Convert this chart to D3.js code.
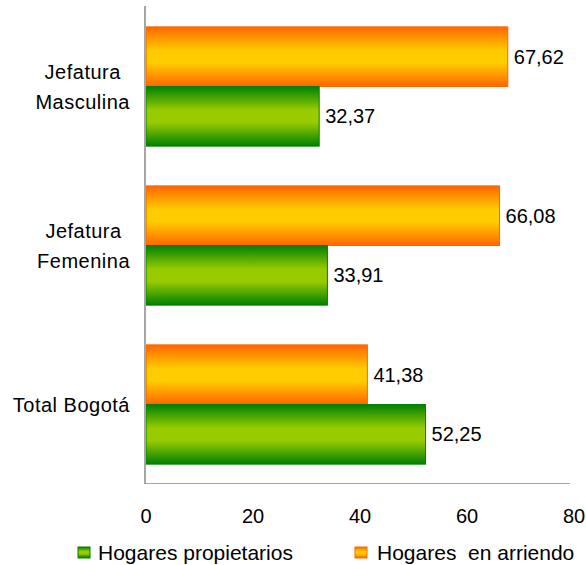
<!DOCTYPE html>
<html lang="es">
<head>
<meta charset="UTF-8">
<title>Hogares por jefatura</title>
<script src="https://cdn.jsdelivr.net/npm/d3@7/dist/d3.min.js"></script>
<style>
  body { margin: 0; background: #fff; }
  svg text { font-family: "Liberation Sans", Arial, sans-serif; fill: #000; }
</style>
</head>
<body>
<div id="chart"></div>
<script>
// datos
const categorias = ["Jefatura Masculina", "Jefatura Femenina", "Total Bogotá"];
const etiquetas = [["Jefatura", "Masculina"], ["Jefatura", "Femenina"], ["Total Bogotá"]];
const series = ["Hogares en arriendo", "Hogares propietarios"];
const arriendo = [67.62, 66.08, 41.38];
const propietarios = [32.37, 33.91, 52.25];
const ticks = [0, 20, 40, 60, 80];

const W = 586, H = 565;
const svg = d3.select("#chart").append("svg").attr("width", W).attr("height", H);

// gradientes
const defs = svg.append("defs");
function grad(id, edge, mid) {
  const g = defs.append("linearGradient").attr("id", id)
    .attr("x1", 0).attr("y1", 0).attr("x2", 0).attr("y2", 1);
  g.append("stop").attr("offset", "0%").attr("stop-color", edge);
  g.append("stop").attr("offset", "40%").attr("stop-color", mid);
  g.append("stop").attr("offset", "60%").attr("stop-color", mid);
  g.append("stop").attr("offset", "100%").attr("stop-color", edge);
}
grad("gOr", "#ff6600", "#ffcc00");
grad("gGr", "#008000", "#99cc00");

const x = d3.scaleLinear().domain([0, 80]).range([146, 574]);
const y = d3.scaleBand().domain(categorias).range([7, 484]).paddingInner(0.25).paddingOuter(0.125);
const sub = d3.scaleBand().domain(series).range([0, y.bandwidth()]);

const colores = {
  "Hogares en arriendo": { fill: "url(#gOr)", stroke: "#ff6600" },
  "Hogares propietarios": { fill: "url(#gGr)", stroke: "#008000" }
};

const filas = categorias.map((c, i) => ({ c, vals: [
  { s: series[0], v: arriendo[i] },
  { s: series[1], v: propietarios[i] }
]}));

const grp = svg.selectAll(".grp").data(filas).join("g")
  .attr("transform", d => `translate(0,${y(d.c)})`);

grp.selectAll("rect").data(d => d.vals).join("rect")
  .attr("x", x(0))
  .attr("y", d => sub(d.s))
  .attr("width", d => x(d.v) - x(0))
  .attr("height", sub.bandwidth())
  .attr("fill", d => colores[d.s].fill)
  .attr("stroke", d => colores[d.s].stroke)
  .attr("stroke-width", 1);

grp.selectAll("text.val").data(d => d.vals).join("text")
  .attr("class", "val")
  .attr("x", d => x(d.v) + 6)
  .attr("y", d => sub(d.s) + sub.bandwidth() / 2)
  .attr("dy", "0.35em")
  .style("font-size", "20px")
  .text(d => d3.format(".2f")(d.v).replace(".", ","));

// etiquetas de categoria: bloque alineado a la derecha, lineas centradas
grp.each(function(d, i) {
  const lines = etiquetas[i];
  const g = d3.select(this);
  const cy = y.bandwidth() / 2;
  const lh = 30;
  const ts = lines.map((l, k) => g.append("text")
    .attr("text-anchor", "middle")
    .attr("y", cy + (k - (lines.length - 1) / 2) * lh)
    .attr("dy", "0.35em")
    .style("font-size", "20px")
    .style("letter-spacing", "0.5px")
    .text(l));
  const wmax = d3.max(ts, t => t.node().getComputedTextLength());
  ts.forEach(t => t.attr("x", 130 - wmax / 2));
});

// ejes
svg.append("line").attr("x1", 145).attr("x2", 145).attr("y1", 6).attr("y2", 484)
  .attr("stroke", "#a6a6a6").attr("stroke-width", 2);
svg.append("line").attr("x1", 145).attr("x2", 570).attr("y1", 483.5).attr("y2", 483.5)
  .attr("stroke", "#a6a6a6").attr("stroke-width", 1);

svg.selectAll(".tick").data(ticks).join("text")
  .attr("class", "tick")
  .attr("x", d => x(d))
  .attr("y", 516)
  .attr("dy", "0.35em")
  .attr("text-anchor", "middle")
  .style("font-size", "20px")
  .text(d => d);

// leyenda
const ley = [
  { s: "Hogares propietarios", k: "Hogares propietarios", x: 78, tx: 98 },
  { s: "Hogares  en arriendo", k: "Hogares en arriendo", x: 355, tx: 377 }
];
const lg = svg.selectAll(".ley").data(ley).join("g").attr("class", "ley");
lg.append("rect")
  .attr("x", d => d.x).attr("y", 547).attr("width", 12).attr("height", 11)
  .attr("fill", d => colores[d.k].fill)
  .attr("stroke", d => colores[d.k].stroke);
lg.append("text")
  .attr("x", d => d.tx).attr("y", 553).attr("dy", "0.35em")
  .style("font-size", "21px").style("white-space", "pre")
  .attr("xml:space", "preserve")
  .text(d => d.s);
</script>
</body>
</html>
